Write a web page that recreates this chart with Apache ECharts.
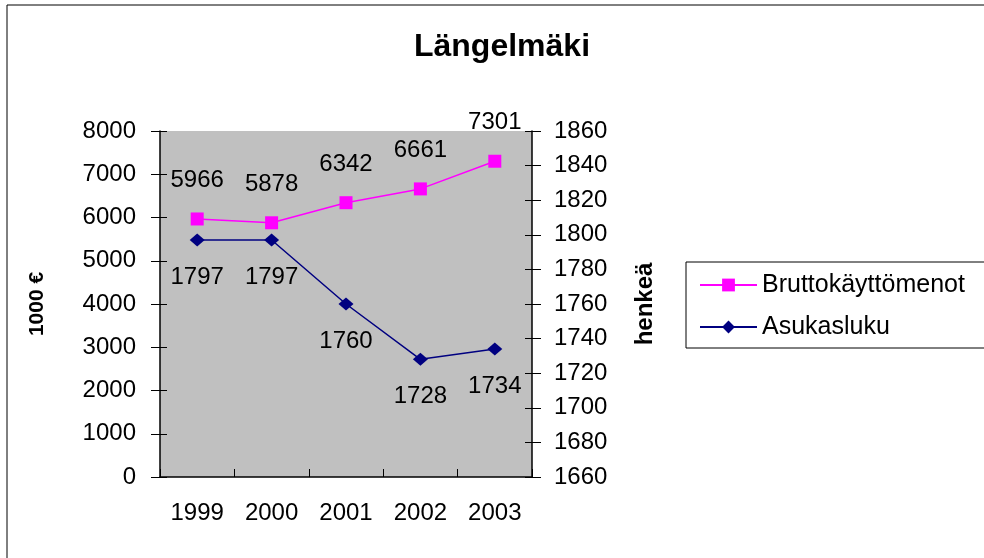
<!DOCTYPE html>
<html>
<head>
<meta charset="utf-8">
<script src="https://cdn.jsdelivr.net/npm/echarts@6/dist/echarts.min.js"></script>
<style>
  html, body { margin: 0; padding: 0; background: #fff; }
  #chart { width: 984px; height: 558px; }
</style>
</head>
<body>
<div id="chart"></div>
<script>
// vuodet ja arvot
const years = ['1999', '2000', '2001', '2002', '2003']
const brutto = [5966, 5878, 6342, 6661, 7301] // 1000 €
const asukkaat = [1797, 1797, 1760, 1728, 1734] // henkeä

const FONT = '"Liberation Sans", Arial, sans-serif'
const plain = v => String(v) // ei tuhaterottimia

// ticks that poke into the plot area too (excel style, crossing the axis)
const innerTicks = (min, max, interval, position) => ({
  type: 'value',
  min: min,
  max: max,
  interval: interval,
  position: position,
  axisLine: { show: false },
  axisTick: { show: true, inside: true, length: 7, lineStyle: { color: '#000' } },
  axisLabel: { show: false },
  splitLine: { show: false }
})

const chart = echarts.init(document.getElementById('chart'))
chart.setOption({
  animation: false,
  textStyle: { fontFamily: FONT },
  title: {
    text: 'Längelmäki',
    left: 497,
    top: 26,
    textAlign: 'center',
    textStyle: { fontSize: 32, fontWeight: 'bold', color: '#000', fontFamily: FONT }
  },
  graphic: [
    { type: 'rect', shape: { x: 7, y: 5, width: 1000, height: 600 }, style: { fill: 'none', stroke: '#000', lineWidth: 1 }, silent: true },
    { type: 'rect', shape: { x: 686, y: 262, width: 400, height: 86 }, style: { fill: '#fff', stroke: '#000', lineWidth: 1 }, silent: true, z: 0 }
  ],
  legend: {
    orient: 'vertical',
    left: 694,
    top: 266,
    itemWidth: 57,
    itemHeight: 16,
    itemGap: 14,
    textStyle: { fontSize: 25, color: '#000', fontFamily: FONT, lineHeight: 28 },
    data: ['Bruttokäyttömenot', 'Asukasluku'],
    z: 5
  },
  grid: {
    left: 160,
    right: 452,
    top: 131,
    bottom: 81,
    show: true,
    backgroundColor: '#c0c0c0',
    borderWidth: 0
  },
  xAxis: [
    {
      type: 'category',
      data: years,
      boundaryGap: true,
      axisLine: { lineStyle: { color: '#000', width: 1.5 } },
      axisTick: { length: 8, lineStyle: { color: '#000' } },
      axisLabel: { fontSize: 24, color: '#000', margin: 24, fontFamily: FONT }
    },
    {
      type: 'category',
      data: years,
      boundaryGap: true,
      position: 'bottom',
      axisLine: { show: false },
      axisTick: { show: true, inside: true, length: 8, lineStyle: { color: '#000' } },
      axisLabel: { show: false }
    }
  ],
  yAxis: [
    {
      type: 'value',
      min: 0,
      max: 8000,
      interval: 1000,
      name: '1000 €',
      nameLocation: 'middle',
      nameRotate: 90,
      nameGap: 112,
      nameTextStyle: { fontSize: 21, fontWeight: 'bold', color: '#000', fontFamily: FONT },
      axisLine: { show: true, lineStyle: { color: '#000', width: 1.5 } },
      axisTick: { show: true, length: 9, lineStyle: { color: '#000' } },
      axisLabel: { fontSize: 24, color: '#000', margin: 24, fontFamily: FONT, formatter: plain },
      splitLine: { show: false }
    },
    {
      type: 'value',
      min: 1660,
      max: 1860,
      interval: 20,
      name: 'henkeä',
      nameLocation: 'middle',
      nameRotate: 90,
      nameGap: 101,
      nameTextStyle: { fontSize: 24, fontWeight: 'bold', color: '#000', fontFamily: FONT },
      axisLine: { show: true, lineStyle: { color: '#000', width: 1.5 } },
      axisTick: { show: true, length: 9, lineStyle: { color: '#000' } },
      axisLabel: { fontSize: 24, color: '#000', margin: 22, fontFamily: FONT, formatter: plain },
      splitLine: { show: false }
    },
    innerTicks(0, 8000, 1000, 'left'),
    innerTicks(1660, 1860, 20, 'right')
  ],
  series: [
    {
      name: 'Bruttokäyttömenot',
      type: 'line',
      yAxisIndex: 0,
      data: brutto,
      symbol: 'rect',
      symbolSize: 13,
      itemStyle: { color: '#ff00ff' },
      lineStyle: { color: '#ff00ff', width: 1.5 },
      label: { show: true, position: 'top', distance: 20, fontSize: 24, color: '#000', fontFamily: FONT }
    },
    {
      name: 'Asukasluku',
      type: 'line',
      yAxisIndex: 1,
      data: asukkaat,
      symbol: 'diamond',
      symbolSize: [15, 13],
      itemStyle: { color: '#000080' },
      lineStyle: { color: '#000080', width: 1.5 },
      label: { show: true, position: 'bottom', distance: 19, fontSize: 24, color: '#000', fontFamily: FONT }
    }
  ]
})
</script>
</body>
</html>
